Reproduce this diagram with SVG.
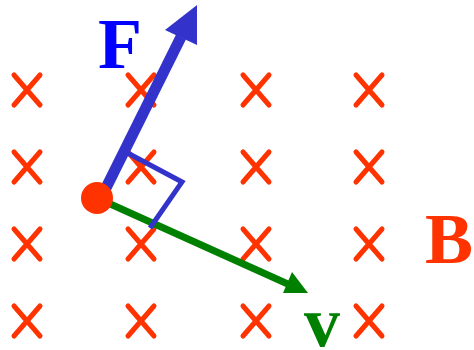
<svg xmlns="http://www.w3.org/2000/svg" width="474" height="350" viewBox="0 0 474 350">
<style>
.x{stroke:#FF3300;stroke-width:5;stroke-linecap:round;fill:none}
.lbl{font-family:"Liberation Serif",serif;font-weight:bold;font-size:72px}
</style>
<defs>
<path id="cr" d="M-13,-15 L13,15 M13,-15 L-13,15"/>
</defs>
<g id="field">
<use href="#cr" class="x" x="27" y="90"/><use href="#cr" class="x" x="141" y="90"/><use href="#cr" class="x" x="256" y="90"/><use href="#cr" class="x" x="369" y="90"/>
<use href="#cr" class="x" x="27" y="167"/><use href="#cr" class="x" x="141" y="167"/><use href="#cr" class="x" x="256" y="167"/><use href="#cr" class="x" x="369" y="167"/>
<use href="#cr" class="x" x="27" y="244"/><use href="#cr" class="x" x="141" y="244"/><use href="#cr" class="x" x="256" y="244"/><use href="#cr" class="x" x="369" y="244"/>
<use href="#cr" class="x" x="27" y="321"/><use href="#cr" class="x" x="141" y="321"/><use href="#cr" class="x" x="256" y="321"/><use href="#cr" class="x" x="369" y="321"/>
</g>
<g id="connectors">
<line x1="97" y1="198" x2="290" y2="285" stroke="#008000" stroke-width="7"/>
<polygon points="308,293 283,293 292,272" fill="#008000"/>
<line x1="100" y1="200" x2="181" y2="37" stroke="#3333CC" stroke-width="11"/>
<polygon points="197,5 165,30 197,45" fill="#3333CC"/>
<polyline points="122,150 182,182 150,228" fill="none" stroke="#3333CC" stroke-width="5"/>
</g>
<g id="charge"><circle cx="97" cy="198" r="16" fill="#FF3300"/></g>
<g id="labels">
<text class="lbl" x="98" y="68" fill="#0000FF">F</text>
<text class="lbl" x="425" y="263" fill="#FF3300">B</text>
<text class="lbl" x="304" y="346" fill="#008000">v</text>
</g>
</svg>
